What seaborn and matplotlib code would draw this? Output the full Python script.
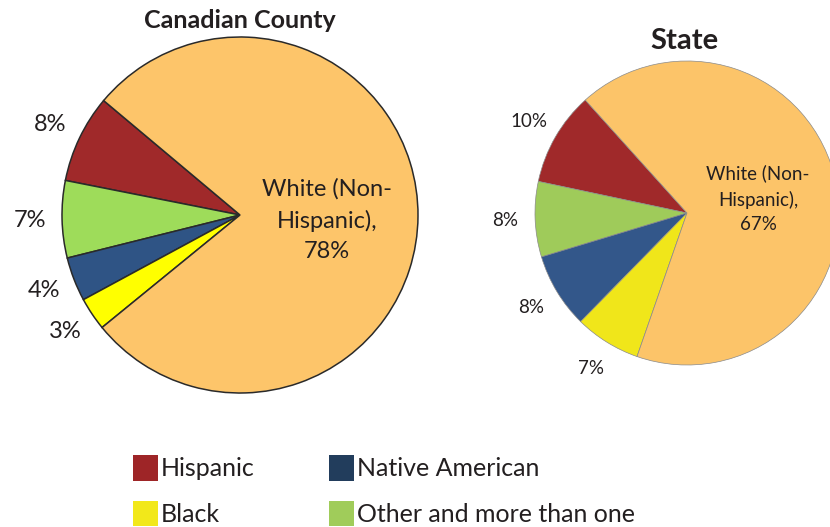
import matplotlib
matplotlib.use("Agg")
import matplotlib.pyplot as plt
from matplotlib.patches import Patch
import seaborn as sns

# data
groups = ["Hispanic", "Other and more than one", "Native American", "Black", "White (Non-Hispanic)"]
county_pct = [8, 7, 4, 3, 78]
state_pct = [10, 8, 8, 7, 67]
legend_order = ["Hispanic", "Black", "Native American", "Other and more than one"]

county_colors = ["#A0292A", "#9EDC5A", "#2F5485", "#FFFF00", "#FDC56A"]
state_colors = ["#A0292A", "#9FCB5A", "#33578A", "#F0E61A", "#FCC469"]
legend_colors = {"Hispanic": "#9E2527", "Native American": "#223D5C",
                 "Black": "#F2E81A", "Other and more than one": "#A0CC5A"}

sns.set_theme(style="white")
plt.rcParams["font.family"] = ["Lato", "DejaVu Sans"]
TXT = "#231F20"

W, H = 830, 527
fig = plt.figure(figsize=(W / 100, H / 100), dpi=100)
ax = fig.add_axes([0, 0, 1, 1])

# county pie
_, _, ctexts = ax.pie(county_pct, colors=sns.color_palette(county_colors), startangle=140,
                      center=(240, H - 215), radius=178, autopct=lambda p: f"{p:.0f}%",
                      pctdistance=1.18,
                      wedgeprops=dict(edgecolor="#2a2a2a", linewidth=1.1),
                      textprops=dict(fontsize=17, color=TXT))
ctexts[-1].set_text("White (Non-\nHispanic),\n78%")
ctexts[-1].set_position((327, H - 220))
ctexts[-1].set_linespacing(1.55)

# state pie
_, _, stexts = ax.pie(state_pct, colors=sns.color_palette(state_colors), startangle=132,
                      center=(687, H - 213), radius=152, autopct=lambda p: f"{p:.0f}%",
                      pctdistance=1.2,
                      wedgeprops=dict(edgecolor="#8a8a8a", linewidth=0.5),
                      textprops=dict(fontsize=13.5, color=TXT))
stexts[-1].set_text("White (Non-\nHispanic),\n67%")
stexts[-1].set_position((758, H - 199))
stexts[-1].set_linespacing(1.55)

ax.text(240, H - 20, "Canadian County", ha="center", va="center",
        fontsize=18, fontweight="bold", color=TXT)
ax.text(684, H - 41, "State", ha="center", va="center",
        fontsize=21, fontweight="bold", color=TXT)

ax.set_xlim(0, W)
ax.set_ylim(0, H)
ax.axis("off")

handles = [Patch(facecolor=legend_colors[g], edgecolor="none", label=g) for g in legend_order]
fig.legend(handles=handles, ncol=2, loc="upper left",
           bbox_to_anchor=(133 / W, 1 - 455 / H), frameon=False,
           fontsize=18, borderpad=0, borderaxespad=0, handlelength=1.0, handleheight=1.2,
           handletextpad=0.1, columnspacing=3.0, labelspacing=0.8,
           labelcolor=TXT)

fig.savefig("out.png", dpi=100)
